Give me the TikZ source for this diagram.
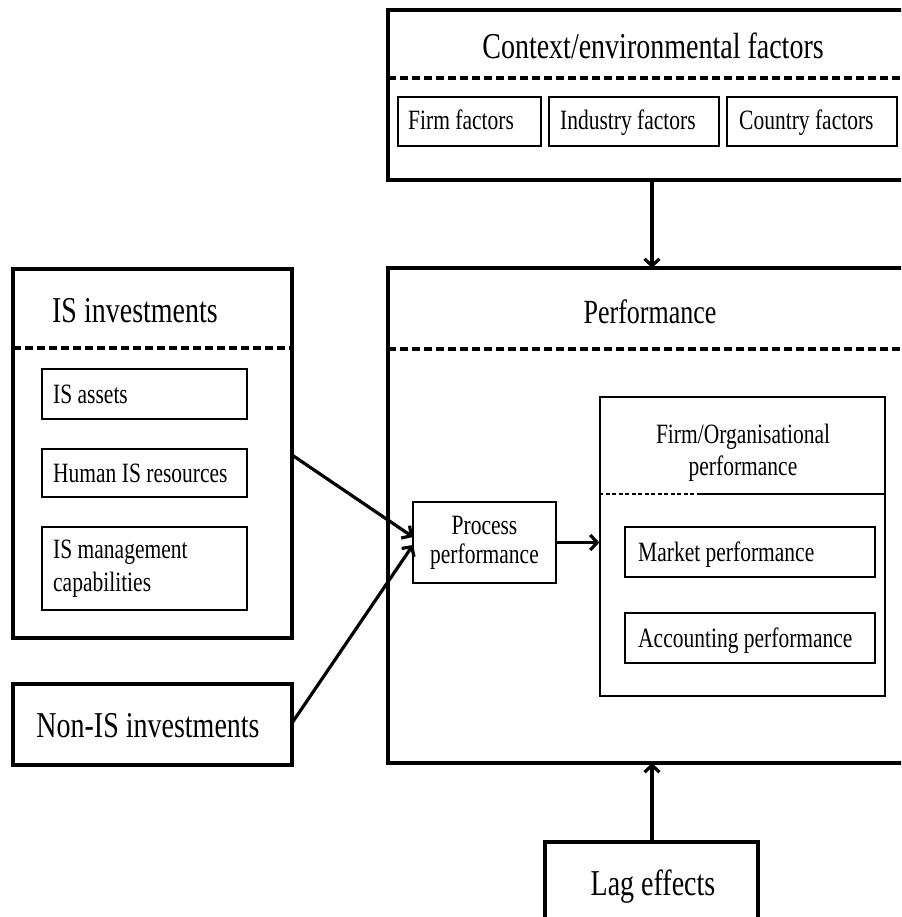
\documentclass[tikz,border=0pt]{standalone}
\usepackage{fontspec}
\setmainfont{Liberation Serif}
\usetikzlibrary{arrows.meta}
\newcommand\tx[1]{\scalebox{1}[1.3]{#1}}
\newcommand\bigfnt{\fontsize{28}{34}\selectfont}
\newcommand\smlfnt{\fontsize{21.5}{25}\selectfont}
\tikzset{
  outerbox/.style={draw, line width=4.5pt, rectangle, inner sep=0pt},
  innerbox/.style={draw, line width=1.2pt, rectangle, inner sep=0pt},
  sepline/.style={line width=4pt, dash pattern=on 8pt off 4pt},
  txtlabel/.style={inner sep=0pt},
  arr/.style={line width=3.2pt, -{Straight Barb[length=7pt,width=15pt,line width=3.2pt]}}
}
\begin{document}
\begin{tikzpicture}[x=1pt,y=-1pt]
\useasboundingbox (0,0) rectangle (901,917);
\clip (0,0) rectangle (901,917);
% outer boxes
\node[outerbox, minimum width=572pt, minimum height=170pt] (ctx) at (674,95) {};
\node[outerbox, minimum width=572pt, minimum height=495pt] (perf) at (674,515.5) {};
\node[outerbox, minimum width=279pt, minimum height=369pt] (isbox) at (152.5,453.5) {};
\node[outerbox, minimum width=279pt, minimum height=81pt] (nonis) at (152.5,724.5) {};
\node[txtlabel] (nonist) at (148,726) {\tx{\bigfnt Non-IS investments}};
\node[outerbox, minimum width=213pt, minimum height=118pt] (lag) at (651.5,901) {};
% separators
\draw[sepline] (388,78) -- (960,78);
\draw[sepline] (388,349) -- (960,349);
\draw[sepline] (13,348) -- (292,348);
% titles
\node[txtlabel] (ctxt) at (653,46) {\tx{\bigfnt Context/environmental factors}};
\node[txtlabel] (perft) at (650,312) {\tx{\fontsize{26}{32}\selectfont Performance}};
\node[txtlabel] (ist) at (135,311) {\tx{\bigfnt IS investments}};
\node[txtlabel] (lagt) at (653,887) {\tx{\bigfnt Lag effects}};
% context factors
\node[innerbox, minimum width=143pt, minimum height=49pt] (firmf) at (469.5,121.5) {};
\node[txtlabel, anchor=base west] (firmft) at (408,130) {\tx{\smlfnt Firm factors}};
\node[innerbox, minimum width=170pt, minimum height=49pt] (indf) at (634,121.5) {};
\node[txtlabel, anchor=base west] (indft) at (560,130) {\tx{\smlfnt Industry factors}};
\node[innerbox, minimum width=170pt, minimum height=49pt] (cntf) at (812,121.5) {};
\node[txtlabel, anchor=base west] (cntft) at (739,130) {\tx{\smlfnt Country factors}};
% IS inner boxes
\node[innerbox, minimum width=205pt, minimum height=50pt] (isa) at (144.5,394) {};
\node[txtlabel, anchor=base west] (isat) at (53,403) {\tx{\smlfnt IS assets}};
\node[innerbox, minimum width=205pt, minimum height=48pt] (hisr) at (144.5,473) {};
\node[txtlabel, anchor=base west] (hisrt) at (53,482) {\tx{\smlfnt Human IS resources}};
\node[innerbox, minimum width=205pt, minimum height=83pt] (ismc) at (144.5,568.5) {};
\node[txtlabel, anchor=west] (ismct) at (53,568.5) {\tx{\smlfnt\begin{tabular}{@{}l@{}}IS management\\[0pt]capabilities\end{tabular}}};
% process
\node[innerbox, minimum width=143pt, minimum height=81pt] (proc) at (484.5,542.5) {\tx{\smlfnt\begin{tabular}{@{}c@{}}Process\\[-3pt]performance\end{tabular}}};
% firm/org
\node[innerbox, minimum width=285pt, minimum height=299pt] (firmorg) at (742.5,546.5) {};
\node[txtlabel] (firmorgt) at (743,453) {\tx{\smlfnt\begin{tabular}{@{}c@{}}Firm/Organisational\\[0pt]performance\end{tabular}}};
\draw[line width=1.2pt, dash pattern=on 4pt off 2.5pt] (firmorg.west |- 0,494) -- (701,494);
\draw[line width=1.2pt] (701,494) -- (firmorg.east |- 0,494);
\node[innerbox, minimum width=250pt, minimum height=50pt] (mkt) at (750,552) {};
\node[txtlabel, anchor=base west] (mktt) at (638,561) {\tx{\smlfnt Market performance}};
\node[innerbox, minimum width=250pt, minimum height=50pt] (acc) at (750,638) {};
\node[txtlabel, anchor=base west] (acct) at (638,647) {\tx{\smlfnt Accounting performance}};
% connector endpoints
\coordinate (c1) at (652,180);
\coordinate (c2) at (652,268);
\coordinate (c3) at (292,455);
\coordinate (c4) at (413,537);
\coordinate (c5) at (292,723);
\coordinate (c6) at (413,545);
\coordinate (c7) at (652,842);
\coordinate (c8) at (652,763);
% arrows
\draw[arr] (c1) -- (c2);
\draw[arr] (c3) -- (c4);
\draw[arr] (c5) -- (c6);
\draw[arr] (proc.east) -- (firmorg.west |- proc.east);
\draw[arr] (c7) -- (c8);
\end{tikzpicture}
\end{document}
